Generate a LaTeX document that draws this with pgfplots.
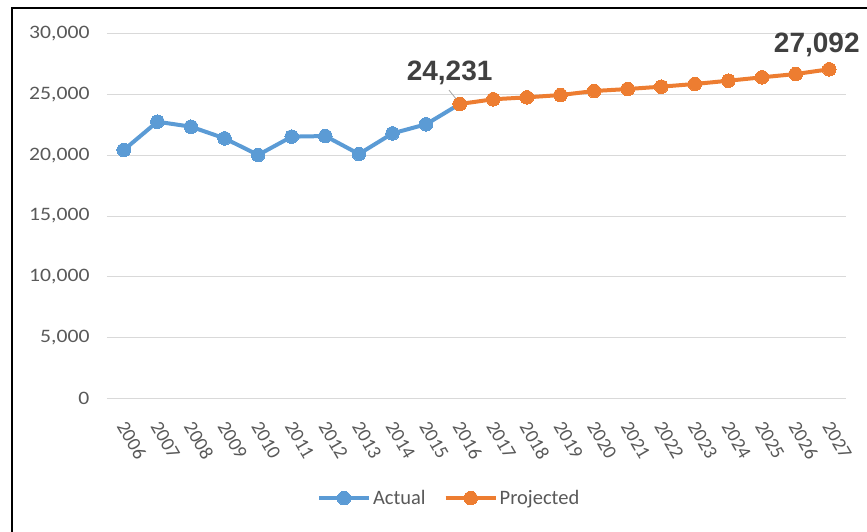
\documentclass[border=0pt]{standalone}
\usepackage{fontspec}
\setmainfont{Carlito}
\newfontfamily\arialb{Liberation Sans}
\usepackage{pgfplots}
\pgfplotsset{compat=1.18}
\definecolor{cblue}{HTML}{5B9BD5}
\definecolor{corange}{HTML}{ED7D31}
\definecolor{cgrid}{HTML}{D9D9D9}
\definecolor{ctext}{HTML}{595959}
\definecolor{clabel}{HTML}{404040}
\begin{document}
\begin{tikzpicture}[x=1pt,y=1pt]
\useasboundingbox (0,0) rectangle (867,531);
\begin{scope}
\clip (0,0) rectangle (867,531);
\draw[line width=2.5pt] (12,-20) -- (12,523) -- (900,523);
\end{scope}
\begin{axis}[
  at={(107pt,133pt)}, anchor=south west,
  scale only axis, width=739pt, height=364pt,
  xmin=2005.5, xmax=2027.5, ymin=0, ymax=30000,
  axis line style={draw=none}, tick style={draw=none},
  ytick={0,5000,...,30000}, ymajorgrids,
  grid style={cgrid, line width=1pt},
  scaled y ticks=false,
  xtick={2006,...,2027},
  xticklabels={2006,2007,2008,2009,2010,2011,2012,2013,2014,2015,2016,2017,2018,2019,2020,2021,2022,2023,2024,2025,2026,2027},
  /pgf/number format/assume math mode=true,
  yticklabel={\scalebox{1.14}[1]{\pgfmathprintnumber[1000 sep={,}]{\tick}}},
  yticklabel style={font=\fontsize{19}{22}\selectfont, text=ctext},
  yticklabel shift=14pt,
  xticklabel style={inner sep=0pt, xshift=-2pt, yshift=-25pt, rotate=-60, anchor=west, font=\fontsize{19.5}{22}\selectfont, text=ctext},
  clip=false,
  legend style={at={(0.463,-0.275)}, anchor=center, draw=none, fill=none,
    font=\fontsize{20.5}{24}\selectfont, text=ctext,
    /tikz/every even column/.append style={column sep=16pt}},
  legend columns=2,
  legend image code/.code={\draw[#1, mark repeat=2, mark phase=2] plot coordinates {(0pt,0pt) (25pt,0pt) (50pt,0pt)};},
]
\addplot[cblue, line width=4pt, mark=*, mark size=6.8pt, mark options={solid, fill=cblue, draw=cblue, line width=0pt}]
  coordinates {(2006,20440) (2007,22770) (2008,22360) (2009,21400) (2010,20030) (2011,21540) (2012,21590) (2013,20110) (2014,21810) (2015,22560) (2016,24231)};
\addlegendentry{Actual}
\addplot[corange, line width=4pt, mark=*, mark size=6.8pt, mark options={solid, fill=corange, draw=corange, line width=0pt}]
  coordinates {(2016,24231) (2017,24620) (2018,24780) (2019,24970) (2020,25300) (2021,25465) (2022,25660) (2023,25880) (2024,26150) (2025,26430) (2026,26700) (2027,27092)};
\addlegendentry{Projected}
\draw[gray!70, line width=0.8pt] (axis cs:2015.68,25380) -- (axis cs:2015.92,24555);
\node[anchor=base, inner sep=0pt, font=\arialb\bfseries\fontsize{28}{30}\selectfont, text=clabel] at (axis cs:2015.70,26200) {24,231};
\node[anchor=base, inner sep=0pt, font=\arialb\bfseries\fontsize{28}{30}\selectfont, text=clabel] at (axis cs:2026.63,28510) {27,092};
\end{axis}
\end{tikzpicture}
\end{document}
